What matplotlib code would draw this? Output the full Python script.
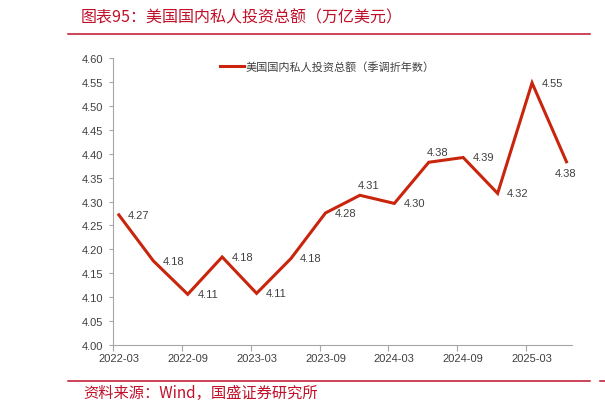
import numpy as np
import matplotlib
matplotlib.use('Agg')
import matplotlib.pyplot as plt
from matplotlib.lines import Line2D

plt.rcParams['font.family'] = ['Liberation Sans', 'Noto Sans CJK SC']

### Data #######################################################################
quarters = ['2022-03', '2022-06', '2022-09', '2022-12', '2023-03', '2023-06', '2023-09',
            '2023-12', '2024-03', '2024-06', '2024-09', '2024-12', '2025-03', '2025-06']
investment = [4.272, 4.176, 4.106, 4.184, 4.108, 4.181, 4.276,
              4.313, 4.296, 4.382, 4.392, 4.317, 4.548, 4.383]
# where each value label sits: right / above / below
label_pos = ['r', 'r', 'r', 'r', 'r', 'r', 'r',
             'a', 'r', 'a', 'r', 'r', 'r', 'b']

title = '图表95：美国国内私人投资总额（万亿美元）'
series_name = '美国国内私人投资总额（季调折年数）'
source = '资料来源：Wind，国盛证券研究所'

RED = '#C8250C'
DARK_RED = '#C0102A'
TEXT = '#404040'
GRAY = '#A6A6A6'

### Figure #####################################################################
fig = plt.figure(figsize=(6.05, 4.14), dpi=100)
W, H = 605, 414
ax = fig.add_axes([113 / W, 1 - 346 / H, (572 - 113) / W, (346 - 59) / H])

x = np.arange(len(quarters))
ax.plot(x, investment, color=RED, lw=2.2, solid_joinstyle='miter', label=series_name)

offsets = {'r': (20, 0), 'a': (9, 10), 'b': (-1, -11)}
for xi, v, p in zip(x, investment, label_pos):
    ax.annotate('%.2f' % v, (xi, v), xytext=offsets[p], textcoords='offset pixels',
                ha='center', va='center', fontsize=8, color=TEXT)

# axes
ax.set_ylim(4.0, 4.6)
ax.set_yticks(np.arange(4.0, 4.601, 0.05))
ax.set_yticklabels(['%.2f' % t for t in np.arange(4.0, 4.601, 0.05)])
ax.set_xlim(-0.17, 13.16)
ax.set_xticks(x[::2])
ax.set_xticklabels(quarters[::2])
ax.set_xticks(x[::2] - 0.17, minor=True)

for s in ['top', 'right']:
    ax.spines[s].set_visible(False)
for s in ['left', 'bottom']:
    ax.spines[s].set_color(GRAY)
    ax.spines[s].set_linewidth(0.8)

ax.tick_params(axis='y', length=3, width=0.8, color=GRAY, labelsize=8, labelcolor=TEXT, pad=4)
ax.tick_params(axis='x', which='major', length=0, labelsize=8, labelcolor=TEXT, pad=6)
ax.tick_params(axis='x', which='minor', length=4, width=0.8, color=GRAY)

leg = ax.legend(loc='center', bbox_to_anchor=(0.468, 0.969), frameon=False,
                fontsize=8, handlelength=2.1, handletextpad=0.2, borderaxespad=0)
for t in leg.get_texts():
    t.set_color(TEXT)

### Header / footer ############################################################
fig.text(81 / W, 1 - 18 / H, title, fontsize=11.5, color=DARK_RED, va='center', ha='left',
         family=['Noto Sans CJK SC'])
fig.add_artist(Line2D([68 / W, 590 / W], [1 - 35 / H, 1 - 35 / H], color=DARK_RED, lw=1.1))
fig.add_artist(Line2D([68 / W, 590 / W], [1 - 382 / H, 1 - 382 / H], color=DARK_RED, lw=1.1))
fig.add_artist(Line2D([600 / W, 1], [1 - 382 / H, 1 - 382 / H], color=DARK_RED, lw=1.1))
fig.text(83 / W, 1 - 393 / H, source, fontsize=11, color=DARK_RED, va='center', ha='left',
         family=['Noto Sans CJK SC'])

fig.savefig('out.png', dpi=100)
